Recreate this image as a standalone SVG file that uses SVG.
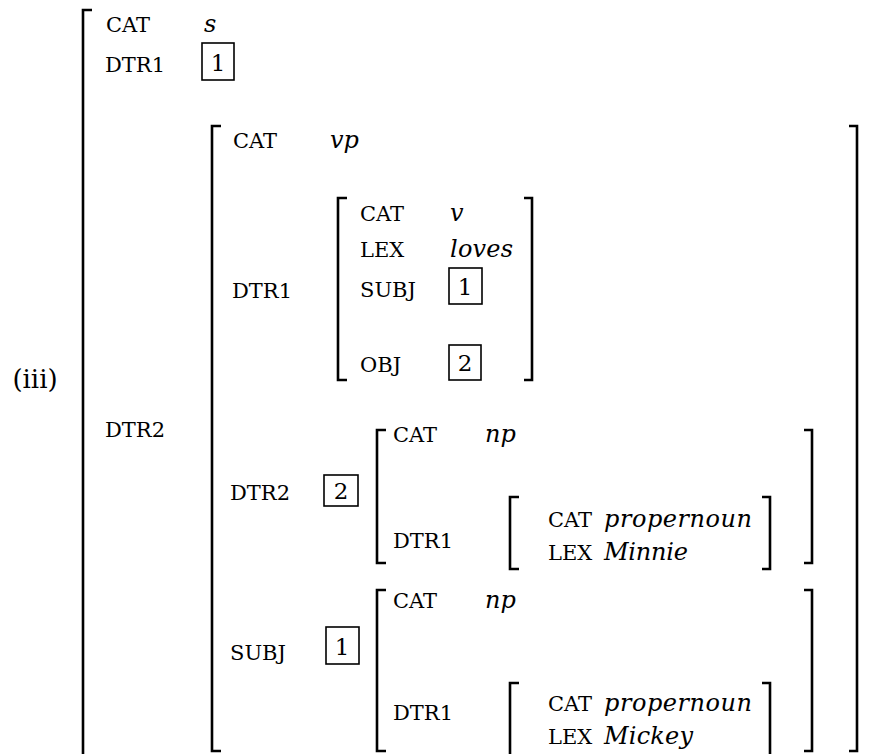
<svg xmlns="http://www.w3.org/2000/svg" width="893" height="754" viewBox="0 0 893 754">
<style>
.l{font-family:"DejaVu Serif",serif;font-size:21px;fill:#000}
.v{font-family:"DejaVu Serif",serif;font-style:italic;font-size:24px;fill:#000}
.n{font-family:"DejaVu Serif",serif;font-size:23px;fill:#000;text-anchor:middle}
.b{fill:none;stroke:#000;stroke-width:2.6}
.t{fill:none;stroke:#000;stroke-width:1.6}
</style>
<rect width="893" height="754" fill="#fff"/>
<text class="n" x="35" y="388" style="text-anchor:middle;font-size:26px">(iii)</text>
<g id="outer">
<path class="b" d="M92,10 H83 V760"/>
<text class="l" x="106" y="32">CAT</text>
<text class="v" x="204" y="32">s</text>
<text class="l" x="105" y="72">DTR1</text>
<rect class="t" x="202" y="43" width="32" height="37"/><text class="n" x="218" y="71">1</text>
<text class="l" x="105" y="437">DTR2</text>
</g>
<g id="vp">
<path class="b" d="M221,126 H212 V751 H221"/>
<path class="b" d="M849,126 H857 V751 H849"/>
<text class="l" x="233" y="148">CAT</text>
<text class="v" x="330" y="148">vp</text>
<text class="l" x="232" y="298">DTR1</text>
<text class="l" x="230" y="500">DTR2</text>
<rect class="t" x="324" y="475" width="34" height="31"/><text class="n" x="341" y="499">2</text>
<text class="l" x="230" y="660">SUBJ</text>
<rect class="t" x="326" y="627" width="33" height="37"/><text class="n" x="342" y="655">1</text>
</g>
<g id="v">
<path class="b" d="M347,198 H338 V380 H347"/>
<path class="b" d="M524,198 H532 V380 H524"/>
<text class="l" x="360" y="221">CAT</text>
<text class="v" x="450" y="221">v</text>
<text class="l" x="360" y="257">LEX</text>
<text class="v" x="450" y="257" textLength="63">loves</text>
<text class="l" x="360" y="297">SUBJ</text>
<rect class="t" x="449" y="268" width="33" height="36"/><text class="n" x="465" y="295">1</text>
<text class="l" x="360" y="372">OBJ</text>
<rect class="t" x="449" y="345" width="32" height="35"/><text class="n" x="465" y="371">2</text>
</g>
<g id="np1">
<path class="b" d="M386,430 H377 V563 H386"/>
<path class="b" d="M804,430 H812 V563 H804"/>
<text class="l" x="393" y="442">CAT</text>
<text class="v" x="485" y="442">np</text>
<text class="l" x="393" y="548">DTR1</text>
</g>
<g id="pn1">
<path class="b" d="M519,497 H510 V569 H519"/>
<path class="b" d="M762,497 H770 V569 H762"/>
<text class="l" x="548" y="527">CAT</text>
<text class="v" x="604" y="527" textLength="148">propernoun</text>
<text class="l" x="548" y="560">LEX</text>
<text class="v" x="604" y="560" textLength="84">Minnie</text>
</g>
<g id="np2">
<path class="b" d="M386,590 H377 V751 H386"/>
<path class="b" d="M804,590 H812 V751 H804"/>
<text class="l" x="393" y="608">CAT</text>
<text class="v" x="485" y="608">np</text>
<text class="l" x="393" y="720">DTR1</text>
</g>
<g id="pn2">
<path class="b" d="M519,683 H510 V760"/>
<path class="b" d="M762,683 H770 V760"/>
<text class="l" x="548" y="711">CAT</text>
<text class="v" x="604" y="711" textLength="148">propernoun</text>
<text class="l" x="548" y="744">LEX</text>
<text class="v" x="604" y="744" textLength="89">Mickey</text>
</g>
<g id="connectors"></g>
</svg>
